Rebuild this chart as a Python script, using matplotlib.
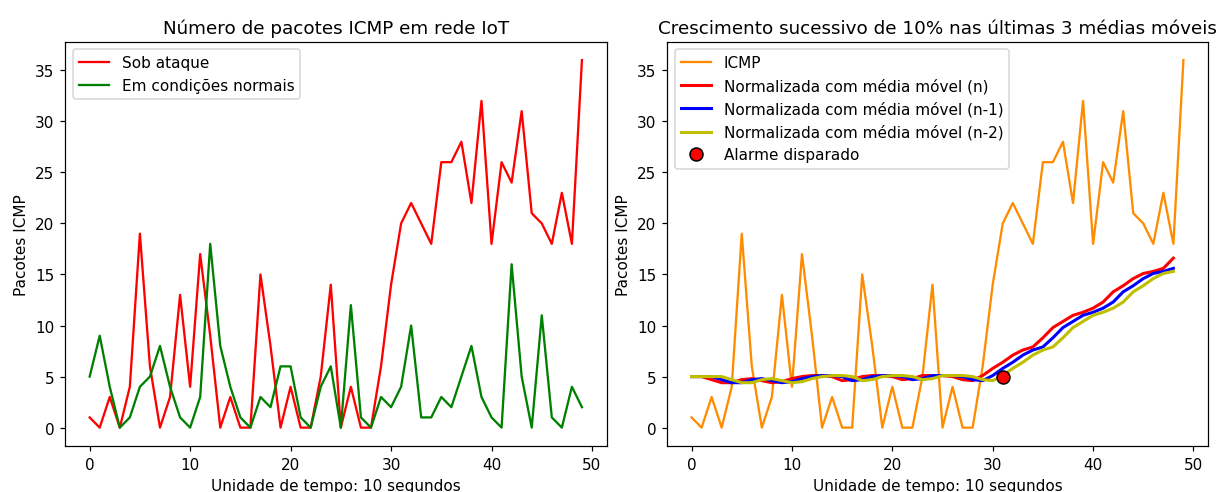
import numpy as np
import matplotlib.pyplot as plt

# pacotes ICMP por unidade de tempo
sob_ataque = [1, 0, 3, 0, 4, 19, 6, 0, 3, 13, 4, 17, 9, 0, 3, 0, 0, 15, 8, 0,
              4, 0, 0, 5, 14, 0, 4, 0, 0, 6, 14, 20, 22, 20, 18, 26, 26, 28, 22, 32,
              18, 26, 24, 31, 21, 20, 18, 23, 18, 36]
normal = [5, 9, 4, 0, 1, 4, 5, 8, 4, 1, 0, 3, 18, 8, 4, 1, 0, 3, 2, 6,
          6, 1, 0, 4, 6, 0, 12, 1, 0, 3, 2, 4, 10, 1, 1, 3, 2, 5, 8, 3,
          1, 0, 16, 5, 0, 11, 1, 0, 4, 2]

# medias moveis normalizadas
mm_n = [5.0, 5.0, 4.7, 4.4, 4.4, 4.7, 4.8, 4.6, 4.4, 4.5, 4.8, 5.0, 5.1, 5.1, 5.0, 4.6, 4.7, 5.0, 5.1, 5.1,
        5.0, 4.7, 4.8, 5.1, 5.1, 5.1, 5.0, 4.7, 4.6, 5.1, 5.8, 6.4, 7.1, 7.6, 7.9, 8.8, 9.8, 10.4, 11.0, 11.3,
        11.7, 12.3, 13.3, 13.9, 14.6, 15.1, 15.3, 15.6, 16.6]
mm_n1 = [5.0, 5.0, 5.0, 4.7, 4.4, 4.4, 4.7, 4.8, 4.6, 4.4, 4.5, 4.8, 5.0, 5.1, 5.1, 5.0, 4.6, 4.7, 5.0, 5.1,
         5.1, 5.0, 4.7, 4.8, 5.1, 5.1, 5.1, 5.0, 4.7, 4.6, 5.1, 5.8, 6.4, 7.1, 7.6, 7.9, 8.8, 9.8, 10.4, 11.0,
         11.3, 11.7, 12.3, 13.3, 13.9, 14.6, 15.1, 15.3, 15.6]
mm_n2 = [5.0, 5.0, 5.0, 5.0, 4.7, 4.4, 4.4, 4.7, 4.8, 4.6, 4.4, 4.5, 4.8, 5.0, 5.1, 5.1, 5.0, 4.6, 4.7, 5.0,
         5.1, 5.1, 5.0, 4.7, 4.8, 5.1, 5.1, 5.1, 5.0, 4.7, 4.6, 5.1, 5.8, 6.4, 7.1, 7.6, 7.9, 8.8, 9.8, 10.4,
         11.0, 11.3, 11.7, 12.3, 13.3, 13.9, 14.6, 15.1, 15.3]
alarme_x = [31]
alarme_y = [5.0]

t = np.arange(len(sob_ataque))
t_mm = np.arange(len(mm_n))

fig = plt.figure(figsize=(1218 / 110, 493 / 110), dpi=110)
ax1 = fig.add_axes([0.0534, 0.0933, 0.4446, 0.8201])
ax2 = fig.add_axes([0.5476, 0.0933, 0.4442, 0.8201])

ax1.plot(t, sob_ataque, color='r', label='Sob ataque')
ax1.plot(t, normal, color='g', label='Em condições normais')
ax1.set_title('Número de pacotes ICMP em rede IoT')
ax1.set_xlabel('Unidade de tempo: 10 segundos')
ax1.set_ylabel('Pacotes ICMP')
ax1.legend(loc='upper left')

ax2.plot(t, sob_ataque, color='darkorange', label='ICMP')
ax2.plot(t_mm, mm_n, color='r', linewidth=2, label='Normalizada com média móvel (n)')
ax2.plot(t_mm, mm_n1, color='b', linewidth=2, label='Normalizada com média móvel (n-1)')
ax2.plot(t_mm, mm_n2, color='y', linewidth=2, label='Normalizada com média móvel (n-2)')
ax2.plot(alarme_x, alarme_y, 'o', color='r', markeredgecolor='k', markersize=8.5,
         label='Alarme disparado')
ax2.set_title('Crescimento sucessivo de 10% nas últimas 3 médias móveis')
ax2.set_xlabel('Unidade de tempo: 10 segundos')
ax2.set_ylabel('Pacotes ICMP')
ax2.legend(loc='upper left')

plt.savefig('out.png', dpi=110)
